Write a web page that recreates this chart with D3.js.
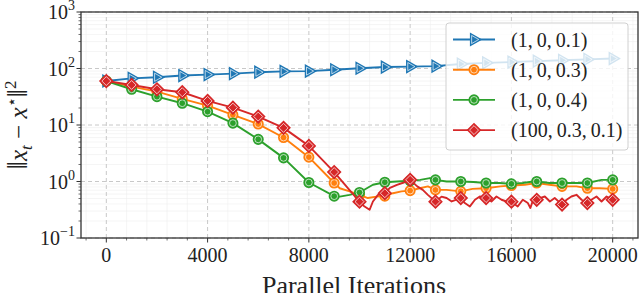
<!DOCTYPE html>
<html>
<head>
<meta charset="utf-8">
<script src="https://cdn.jsdelivr.net/npm/d3@7"></script>
<style>
  body { margin: 0; background: #fff; }
  svg { display: block; font-family: 'Liberation Serif', 'DejaVu Serif', serif; }
</style>
</head>
<body>
<svg></svg>
<script>
const width = 640,
    height = 293
const margin = { left: 81, right: 2, top: 12, bottom: 55 }

// marker positions (every 1000 iterations)
const iters = [0, 1000, 2000, 3000, 4000, 5000, 6000, 7000, 8000, 9000, 10000,
    11000, 12000, 13000, 14000, 15000, 16000, 17000, 18000, 19000, 20000]
const blueMarks = [60, 67, 70, 75, 78, 81, 86, 89, 90, 95, 101, 106, 108, 110,
    120, 126, 130, 135, 140, 145, 150]
const orangeMarks = [60, 47.7, 38.9, 28.9, 22, 15.1, 10.4, 6.0, 2.7, 0.94, 0.58,
    0.55, 0.69, 0.71, 0.67, 0.76, 0.85, 0.94, 0.82, 0.76, 0.74]
const greenMarks = [60, 42.9, 31.7, 24.3, 17.2, 10.8, 5.57, 2.62, 0.96, 0.55, 0.64,
    0.97, 1.03, 1.07, 1.0, 0.94, 0.91, 1.0, 0.94, 0.94, 1.07]
const redMarks = [60, 51.1, 42.9, 38, 26.7, 20.3, 14.1, 8.9, 4.27, 1.47, 0.44,
    0.62, 1.07, 0.44, 0.51, 0.51, 0.44, 0.475, 0.39, 0.415, 0.475]

// extra line points between markers [iteration, value]
const blueDetail = []
const orangeDetail = [[9220, 0.76], [9610, 0.67], [10330, 0.51], [10670, 0.54],
    [11320, 0.62], [11660, 0.67], [12380, 0.76], [12700, 0.82], [13440, 0.71],
    [14460, 0.74], [15560, 0.82], [16530, 0.875], [17500, 0.875], [18570, 0.82],
    [19490, 0.76]]
const greenDetail = [[9220, 0.54], [9610, 0.58], [10530, 0.875], [11480, 1.0],
    [12400, 1.07], [12780, 1.15], [13440, 1.0], [14500, 0.98], [15540, 0.94],
    [16450, 0.94], [16850, 1.0], [17500, 0.94], [18500, 0.94], [19560, 1.07]]
const redDetail = [[9600, 0.71], [10200, 0.36], [10400, 0.316], [10530, 0.443],
    [10730, 0.58], [11200, 0.77], [11480, 0.875], [11720, 0.95], [12280, 0.82],
    [12500, 0.71], [12700, 0.58], [13240, 0.54], [13440, 0.51], [13640, 0.443],
    [14160, 0.415], [14360, 0.362], [14560, 0.475], [14750, 0.543], [15210, 0.443],
    [15410, 0.543], [15610, 0.475], [15810, 0.443], [16250, 0.362], [16450, 0.475],
    [16650, 0.415], [16750, 0.34], [16880, 0.509], [17120, 0.509], [17320, 0.543],
    [17520, 0.443], [17710, 0.509], [18180, 0.475], [18370, 0.543], [18570, 0.582],
    [18770, 0.475], [19160, 0.475], [19360, 0.543], [19560, 0.443], [19760, 0.543]]

const labels = ['(1,\u20090,\u20090.1)', '(1,\u20090,\u20090.3)',
    '(1,\u20090,\u20090.4)', '(100,\u20090.3,\u20090.1)']
const xTicks = [0, 4000, 8000, 12000, 16000, 20000]
const yTicks = [0.1, 1, 10, 100, 1000]
const yExp = ['\u22121', '0', '1', '2', '3']

const series = [
    { marks: blueMarks, detail: blueDetail, color: '#1f77b4', shape: 'tri' },
    { marks: orangeMarks, detail: orangeDetail, color: '#ff7f0e', shape: 'circle' },
    { marks: greenMarks, detail: greenDetail, color: '#2ca02c', shape: 'circle' },
    { marks: redMarks, detail: redDetail, color: '#d62728', shape: 'diamond' },
]

const x = d3.scaleLinear().domain([-1000, 21000]).range([margin.left, width - margin.right])
const y = d3.scaleLog().domain([0.1, 1000]).range([height - margin.bottom, margin.top])

const svg = d3.select('svg').attr('width', width).attr('height', height)

// minor ticks
const xMinor = d3.range(-800, 21000, 800).filter((d) => d % 4000 !== 0)
const yMinor = []
yTicks.slice(0, -1).forEach((t) => {
    for (let k = 2; k < 10; k++) yMinor.push(t * k)
})

const grid = svg.append('g')
grid.selectAll('.vmin').data(xMinor).join('line')
    .attr('x1', x).attr('x2', x).attr('y1', y(0.1)).attr('y2', y(1000))
    .attr('stroke', '#eeeeee').attr('stroke-width', 0.6)
grid.selectAll('.hmin').data(yMinor).join('line')
    .attr('x1', x(-1000)).attr('x2', x(21000)).attr('y1', y).attr('y2', y)
    .attr('stroke', '#eeeeee').attr('stroke-width', 0.6)
grid.selectAll('.vmaj').data(xTicks).join('line')
    .attr('x1', x).attr('x2', x).attr('y1', y(0.1)).attr('y2', y(1000))
    .attr('stroke', '#c8c8c8').attr('stroke-width', 1).attr('stroke-dasharray', '4,3')
grid.selectAll('.hmaj').data(yTicks).join('line')
    .attr('x1', x(-1000)).attr('x2', x(21000)).attr('y1', y).attr('y2', y)
    .attr('stroke', '#c8c8c8').attr('stroke-width', 1).attr('stroke-dasharray', '4,3')

// series
const line = d3.line().x((d) => x(d[0])).y((d) => y(d[1]))

function symbolPath(shape, scale) {
    if (shape === 'tri') return d3.symbol(d3.symbolTriangle, 58 * scale)()
    if (shape === 'circle') return d3.symbol(d3.symbolCircle, 72 * scale)()
    return d3.symbol(d3.symbolSquare, 80 * scale)()
}
function symbolRot(shape) {
    if (shape === 'tri') return 90
    if (shape === 'diamond') return 45
    return 0
}

function drawMarker(g, s, px, py) {
    const m = g.append('g').attr('transform', `translate(${px},${py}) rotate(${symbolRot(s.shape)})`)
    m.append('path').attr('d', symbolPath(s.shape, 1))
        .attr('fill', s.color).attr('stroke', s.color).attr('stroke-width', 1.5)
    m.append('path').attr('d', symbolPath(s.shape, 0.5))
        .attr('fill', 'none').attr('stroke', '#fff').attr('stroke-width', 0.8)
        .attr('stroke-opacity', 0.85)
}

const plot = svg.append('g')
series.forEach((s) => {
    const pts = iters.map((it, i) => [it, s.marks[i]]).concat(s.detail)
        .sort((a, b) => a[0] - b[0])
    const g = plot.append('g')
    g.append('path').datum(pts).attr('d', line)
        .attr('fill', 'none').attr('stroke', s.color).attr('stroke-width', 1.9)
        .attr('stroke-linejoin', 'round')
    iters.forEach((it, i) => drawMarker(g, s, x(it), y(s.marks[i])))
})

// axes
const ax = svg.append('g').attr('stroke', '#333').attr('stroke-width', 1)
ax.selectAll('.xt').data(xTicks).join('line')
    .attr('x1', x).attr('x2', x).attr('y1', y(0.1)).attr('y2', y(0.1) + 4.5)
ax.selectAll('.xm').data(xMinor).join('line')
    .attr('x1', x).attr('x2', x).attr('y1', y(0.1)).attr('y2', y(0.1) + 2.5)
    .attr('stroke-width', 0.7)
ax.selectAll('.yt').data(yTicks).join('line')
    .attr('x1', x(-1000) - 4.5).attr('x2', x(-1000)).attr('y1', y).attr('y2', y)
ax.selectAll('.ym').data(yMinor).join('line')
    .attr('x1', x(-1000) - 2.5).attr('x2', x(-1000)).attr('y1', y).attr('y2', y)
    .attr('stroke-width', 0.7)
svg.append('rect')
    .attr('x', x(-1000)).attr('y', y(1000))
    .attr('width', x(21000) - x(-1000)).attr('height', y(0.1) - y(1000))
    .attr('fill', 'none').attr('stroke', '#333').attr('stroke-width', 1.3)

svg.append('g').selectAll('text').data(xTicks).join('text')
    .attr('x', x).attr('y', y(0.1) + 24)
    .attr('text-anchor', 'middle').attr('font-size', 20).attr('fill', '#222')
    .text((d) => d)

const yl = svg.append('g').selectAll('text').data(yTicks).join('text')
    .attr('x', x(-1000) - 6).attr('y', (d) => y(d) + 7)
    .attr('text-anchor', 'end').attr('font-size', 20).attr('fill', '#222')
yl.append('tspan').text('10')
yl.append('tspan').attr('dy', -9).attr('font-size', 14).text((d, i) => yExp[i])

// axis labels
svg.append('text')
    .attr('x', 354).attr('y', 294)
    .attr('text-anchor', 'middle').attr('font-size', 26).attr('fill', '#222')
    .text('Parallel Iterations')

const ylab = svg.append('text')
    .attr('transform', `translate(27,${(y(0.1) + y(1000)) / 2}) rotate(-90)`)
    .attr('text-anchor', 'middle').attr('font-size', 25).attr('fill', '#222')
ylab.append('tspan').attr('font-size', 30).text('\u2016')
ylab.append('tspan').attr('font-style', 'italic').text('x')
ylab.append('tspan').attr('font-style', 'italic').attr('font-size', 17).attr('dy', 5).text('t')
ylab.append('tspan').attr('dy', -5).text(' \u2212 ')
ylab.append('tspan').attr('font-style', 'italic').text('x')
ylab.append('tspan').attr('font-size', 16).attr('dy', -10).text('\u22c6')
ylab.append('tspan').attr('font-size', 30).attr('dy', 10).text('\u2016')
ylab.append('tspan').attr('font-size', 17).attr('dy', -11).text('2')

// legend
const lg = svg.append('g')
lg.append('rect')
    .attr('x', 446).attr('y', 23).attr('width', 182).attr('height', 127).attr('rx', 3)
    .attr('fill', '#fff').attr('fill-opacity', 0.8)
    .attr('stroke', '#d0d0d0').attr('stroke-width', 1)
series.forEach((s, i) => {
    const ry = 39.5 + i * 30.2
    lg.append('line').attr('x1', 453).attr('x2', 495).attr('y1', ry).attr('y2', ry)
        .attr('stroke', s.color).attr('stroke-width', 1.9)
    drawMarker(lg, s, 474, ry)
    lg.append('text').attr('x', 511).attr('y', ry + 7)
        .attr('font-size', 20).attr('fill', '#222').text(labels[i])
})
</script>
</body>
</html>
